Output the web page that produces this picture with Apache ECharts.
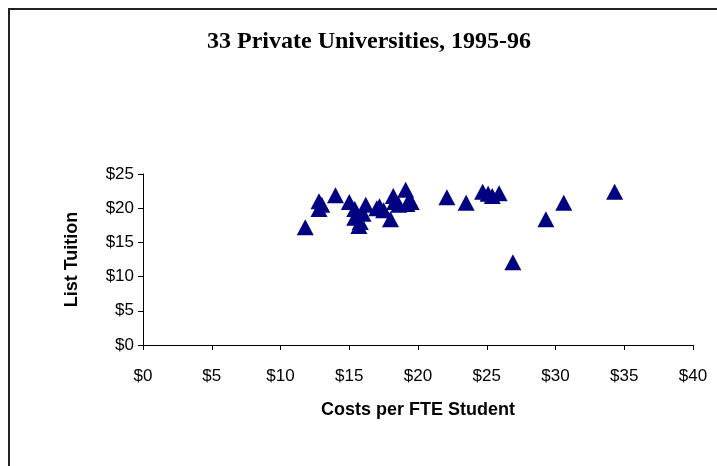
<!DOCTYPE html>
<html>
<head>
<meta charset="utf-8">
<script src="https://cdn.jsdelivr.net/npm/echarts@6/dist/echarts.min.js"></script>
<style>
html,body{margin:0;padding:0;background:#fff;}
#frame{position:absolute;left:8px;top:8px;width:720px;height:470px;border-left:2px solid #222;border-top:2px solid #222;}
#chart{position:absolute;left:0;top:0;width:717px;height:466px;}
</style>
</head>
<body>
<div id="frame"></div>
<div id="chart"></div>
<script>
const titleText = "33 Private Universities, 1995-96";
const xAxisName = "Costs per FTE Student";
const yAxisName = "List Tuition";
// Costs per FTE student (thousands $)
const costs = [11.8, 12.8, 12.8, 14.0, 15.0, 15.4, 15.4, 15.7, 16.2, 17.0, 17.5, 18.0, 18.2, 18.6, 19.1, 19.2, 19.5, 22.1, 23.5, 24.7, 25.1, 25.9, 26.9, 29.3, 30.6, 34.3, 16.0, 15.8, 18.3, 19.4, 17.2, 13.0, 25.4];
// List tuition (thousands $)
const tuition = [17.2, 21.0, 19.9, 21.9, 20.9, 19.9, 18.6, 17.4, 20.5, 20.0, 19.7, 18.4, 21.8, 20.5, 22.7, 20.6, 20.9, 21.6, 20.8, 22.4, 22.1, 22.2, 12.1, 18.4, 20.8, 22.4, 19.2, 18.0, 20.9, 21.2, 20.3, 20.5, 21.8];

const points = costs.map((c, i) => [c, tuition[i]]);
const chart = echarts.init(document.getElementById('chart'));
const labelStyle = {color:'#000', fontFamily:'Liberation Sans, Arial', fontSize:17};
chart.setOption({
  animation:false,
  backgroundColor:'transparent',
  title:{text:titleText, left:364, top:25, textAlign:'center',
    textStyle:{fontFamily:'Liberation Serif, Times New Roman', fontWeight:'bold', fontSize:24, color:'#000'}},
  grid:{left:143, right:24, top:174, bottom:121},
  xAxis:{type:'value', min:0, max:40, interval:5,
    axisLine:{lineStyle:{color:'#000', width:1}},
    axisTick:{show:true, length:5, lineStyle:{color:'#000'}},
    splitLine:{show:false},
    axisLabel:Object.assign({formatter:'${value}', margin:23}, labelStyle),
    name:xAxisName, nameLocation:'middle', nameGap:56,
    nameTextStyle:{fontFamily:'Liberation Sans, Arial', fontWeight:'bold', fontSize:18, color:'#000'}},
  yAxis:{type:'value', min:0, max:25, interval:5,
    axisLine:{show:true, lineStyle:{color:'#000', width:1}},
    axisTick:{show:true, length:5, lineStyle:{color:'#000'}},
    splitLine:{show:false},
    axisLabel:Object.assign({formatter:'${value}', margin:9}, labelStyle),
    name:yAxisName, nameLocation:'middle', nameGap:62, nameRotate:90,
    nameTextStyle:{fontFamily:'Liberation Sans, Arial', fontWeight:'bold', fontSize:18, color:'#000'}},
  series:[{type:'scatter', data:points, symbol:'triangle', symbolSize:[17,16],
    itemStyle:{color:'#000080', opacity:1}}]
});
</script>
</body>
</html>
